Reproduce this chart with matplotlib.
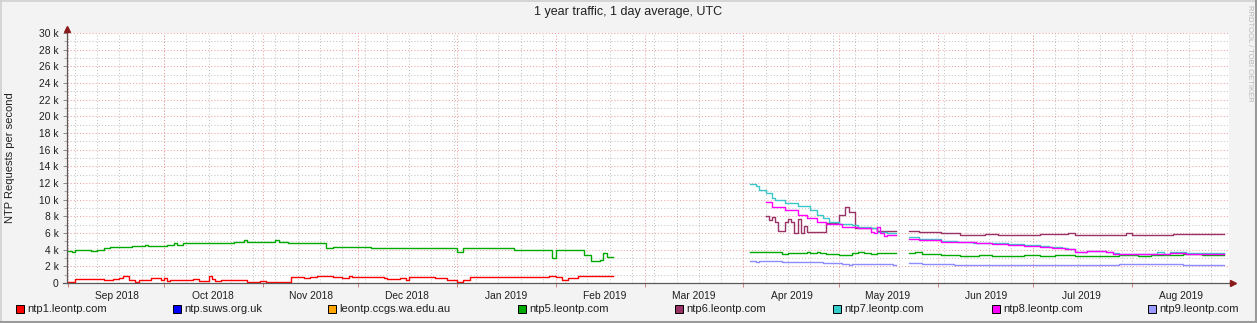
import numpy as np
import pandas as pd
import matplotlib
matplotlib.use("Agg")
import matplotlib.pyplot as plt
from matplotlib.patches import Rectangle
from matplotlib.lines import Line2D

plt.rcParams["font.family"] = ["Liberation Sans", "DejaVu Sans"]

nan = np.nan

# day offsets from 2018-09-01, daily averages in thousands of requests/s
# (a nan closes a run of data)
ntp1_day = [0, 2, 8, 11, 14, 16, 17, 19, 21, 22, 26, 29, 30, 31, 32, 39, 41, 44,
            45, 46, 48, 54, 56, 60, 62, 70, 74, 76, 78, 83, 86, 88, 89, 99, 100,
            104, 106, 107, 115, 119, 120, 122, 124, 126, 151, 153, 155, 157, 160, 171]
ntp1_k = [0.16, 0.44, 0.48, 0.32, 0.44, 0.56, 0.8, 0.36, 0.16, 0.32, 0.56, 0.32,
          0.64, 0.24, 0.32, 0.48, 0.24, 0.84, 0.48, 0.24, 0.32, 0.4, 0.16, 0.24,
          0.16, 0.72, 0.56, 0.76, 0.88, 0.76, 0.56, 0.8, 0.76, 0.56, 0.48, 0.6,
          0.32, 0.72, 0.56, 0.4, 0.32, 0.16, 0.4, 0.72, 0.88, 0.72, 0.4, 0.56, 0.8, nan]

ntp5_day = [0, 1, 2, 7, 9, 11, 13, 20, 24, 25, 31, 33, 34, 36, 52, 55, 56, 65, 66,
            69, 81, 83, 95, 110, 122, 124, 140, 152, 153, 162, 164, 167, 168, 169, 171,
            214, 224, 226, 232, 233, 235, 236, 238, 242, 246, 248, 250, 252, 254, 260,
            264, 266, 268, 274, 280, 286, 290, 300, 305, 310, 316, 320, 327, 330, 336,
            340, 345, 350, 356, 363]
ntp5_k = [3.85, 3.7, 4.0, 3.85, 4.0, 4.15, 4.3, 4.4, 4.6, 4.45, 4.55, 4.75, 4.55,
          4.8, 4.95, 5.15, 4.95, 5.2, 4.95, 4.75, 4.2, 4.3, 4.2, 4.25, 3.7, 4.25,
          3.95, 3.0, 3.95, 3.35, 2.6, 2.75, 3.6, 3.15, nan,
          3.68, 3.48, 3.56, 3.76, 3.56, 3.76, 3.56, 3.48, 3.36, 3.56, 3.76, 3.56,
          3.48, 3.56, nan,
          3.6, 3.68, 3.52, 3.4, 3.28, 3.36, 3.3, 3.4, 3.28, 3.36, 3.2, 3.3, 3.24,
          3.36, 3.28, 3.4, 3.32, 3.44, 3.36, nan]

ntp6_day = [219, 220, 221, 222, 223, 225, 226, 227, 228, 229, 230, 231, 232, 238,
            242, 244, 245, 247, 254, 260,
            264, 267, 272, 274, 280, 288, 292, 299, 305, 314, 316, 326, 332, 334, 341,
            347, 351, 363]
ntp6_k = [8.04, 7.56, 7.9, 7.36, 6.24, 7.36, 7.7, 7.36, 5.96, 7.7, 5.96, 6.8, 6.08,
          7.24, 8.16, 9.08, 8.56, 6.56, 6.24, nan,
          6.3, 6.16, 6.08, 5.96, 5.8, 5.88, 5.76, 5.72, 5.84, 5.96, 5.8, 5.76, 5.96,
          5.8, 5.72, 5.88, 5.84, nan]

ntp7_day = [214, 216, 217, 219, 221, 222, 225, 229, 233, 235, 237, 239, 242, 246,
            248, 252, 254, 257, 260,
            264, 267, 274, 279, 284, 290, 295, 300, 305, 308, 312, 314, 316, 320, 326,
            328, 330, 342, 344, 346, 351, 363]
ntp7_k = [11.84, 11.64, 11.16, 10.76, 10.16, 9.96, 9.56, 9.24, 8.76, 8.16, 7.76,
          7.36, 7.08, 6.96, 6.76, 6.56, 6.16, 5.96, nan,
          5.48, 5.24, 5.08, 4.96, 4.84, 4.76, 4.64, 4.52, 4.4, 4.28, 4.16, 4.04,
          3.76, 3.88, 3.76, 3.6, 3.5, 3.68, 3.5, 3.68, 3.56, nan]

ntp8_day = [219, 221, 225, 229, 232, 235, 238, 243, 248, 252, 253, 254, 255, 256,
            257, 260,
            264, 267, 274, 280, 285, 290, 295, 300, 305, 309, 313, 316, 320, 326, 328,
            330, 346, 351, 363]
ntp8_k = [9.68, 9.16, 8.76, 8.16, 7.76, 7.36, 7.08, 6.76, 6.56, 6.16, 6.0, 6.7, 6.0,
          5.68, 5.8, nan,
          5.32, 5.16, 4.96, 4.88, 4.76, 4.68, 4.56, 4.44, 4.32, 4.2, 4.04, 3.7, 3.8,
          3.7, 3.5, 3.44, 3.56, 3.48, nan]

ntp9_day = [214, 216, 217, 219, 224, 226, 232, 237, 238, 243, 245, 246, 259, 260,
            264, 268, 278, 290, 300, 315, 330, 350, 360, 363]
ntp9_k = [2.6, 2.56, 2.68, 2.6, 2.52, 2.48, 2.52, 2.36, 2.44, 2.32, 2.2, 2.28, 2.2, nan,
          2.44, 2.32, 2.16, 2.12, 2.16, 2.2, 2.24, 2.2, 2.14, nan]

legend_names = ["ntp1.leontp.com", "ntp.suws.org.uk", "leontp.ccgs.wa.edu.au",
                "ntp5.leontp.com", "ntp6.leontp.com", "ntp7.leontp.com",
                "ntp8.leontp.com", "ntp9.leontp.com"]
legend_colors = ["#FF0000", "#0000FF", "#FFA500", "#00AA00", "#993366",
                 "#33CCCC", "#FF00FF", "#9999FF"]
legend_px = [16, 173, 328, 518, 675, 833, 992, 1148]

series = [
    (ntp1_day, ntp1_k, "#FF0000"),
    (ntp5_day, ntp5_k, "#00AA00"),
    (ntp9_day, ntp9_k, "#8C8CFF"),
    (ntp6_day, ntp6_k, "#993366"),
    (ntp7_day, ntp7_k, "#3CC8C8"),
    (ntp8_day, ntp8_k, "#FF00FF"),
]

base = pd.Timestamp("2018-09-01")
months = pd.date_range("2018-09-01", "2019-08-01", freq="MS")
month_day = [(m - base).days for m in months]
month_lab = [m.strftime("%b %Y") for m in months]
mondays = pd.date_range("2018-08-27", "2019-09-02", freq="W-MON")
week_day = [(m - base).days for m in mondays]

W, H = 1257, 323
fig = plt.figure(figsize=(W / 100, H / 100), dpi=100, facecolor="#F3F3F3")
L, R, T, B = 67, 1229, 33, 283
ax = fig.add_axes([L / W, (H - B) / H, (R - L) / W, (B - T) / H])
ax.set_facecolor("white")
x0, x1 = -0.47, 364.5
ax.set_xlim(x0, x1)
ax.set_ylim(0, 30)
for s in ax.spines.values():
    s.set_visible(False)

dots = (0, (1, 2))
minor_c = "#C4C4C4"
major_c = "#F0A0A0"
for d in week_day:
    if x0 < d < x1:
        ax.axvline(d, color=minor_c, lw=0.75, ls=dots, zorder=1)
for k in range(1, 30, 2):
    ax.axhline(k, color=minor_c, lw=0.75, ls=dots, zorder=1)
for d in month_day:
    if x0 < d < x1:
        ax.axvline(d, color=major_c, lw=0.75, ls=dots, zorder=1)
for k in range(2, 31, 2):
    ax.axhline(k, color=major_c, lw=0.75, ls=dots, zorder=1)

for days, vals, col in series:
    ax.plot(days, vals, color=col, lw=1.0, drawstyle="steps-post", zorder=3)

# ticks and labels
ax.set_yticks(range(0, 31, 2))
ax.set_yticklabels(["0"] + ["%d k" % k for k in range(2, 31, 2)])
ax.set_yticks(range(1, 30, 2), minor=True)
ax.set_xticks([d + 15.3 for d in month_day])
ax.set_xticklabels(month_lab)
ax.set_xticks([d for d in month_day if x0 < d < x1], minor=True)
ax.tick_params(axis="y", which="major", length=3, width=0.7, color="#888888",
               labelsize=7.4, pad=3, labelcolor="#202020")
ax.tick_params(axis="y", which="minor", length=2, width=0.7, color="#AAAAAA")
ax.tick_params(axis="x", which="major", length=0, labelsize=7.4, pad=6,
               labelcolor="#202020")
ax.tick_params(axis="x", which="minor", length=3, width=0.7, color="#D08080")

# axis lines with arrow heads
axc = "#5A5A5A"
ax.plot([(63 - L) / (R - L), (1233 - L) / (R - L)], [0, 0], color=axc, lw=0.9,
        transform=ax.transAxes, clip_on=False, zorder=4)
ax.plot([0, 0], [0, (B - 29) / (B - T)], color=axc, lw=0.9,
        transform=ax.transAxes, clip_on=False, zorder=4)
ax.plot([(1233 - L) / (R - L)], [0], marker=">", ms=4, color="#8B1A1A",
        transform=ax.transAxes, clip_on=False, zorder=5)
ax.plot([0], [(B - 29) / (B - T)], marker="^", ms=4, color="#8B1A1A",
        transform=ax.transAxes, clip_on=False, zorder=5)

# titles
fig.text(0.5, 1 - 12 / H, "1 year traffic, 1 day average, UTC", ha="center",
         va="center", fontsize=9, color="#202020")
fig.text(10 / W, 1 - 158 / H, "NTP Requests per second", rotation=90,
         ha="center", va="center", fontsize=8, color="#202020")
fig.text(1249 / W, 1 - 53 / H, "RRDTOOL / TOBI OETIKER", rotation=270,
         ha="center", va="center", fontsize=5.5, color="#B8B8B8")

# legend
for name, col, px in zip(legend_names, legend_colors, legend_px):
    fig.add_artist(Rectangle((px / W, 1 - 313 / H), 8 / W, 8 / H,
                             transform=fig.transFigure, facecolor=col,
                             edgecolor="black", lw=0.7))
    fig.text((px + 11) / W, 1 - 309 / H, name, ha="left", va="center",
             fontsize=8, color="#202020")

# frame
fig.add_artist(Line2D([0, 1], [1 - 0.5 / H, 1 - 0.5 / H], color="#D0D0D0", lw=1.2,
                      transform=fig.transFigure))
fig.add_artist(Line2D([0.5 / W, 0.5 / W], [0, 1], color="#D0D0D0", lw=1.2,
                      transform=fig.transFigure))
fig.add_artist(Line2D([0, 1], [0.8 / H, 0.8 / H], color="#9A9A9A", lw=1.5,
                      transform=fig.transFigure))
fig.add_artist(Line2D([1 - 0.8 / W, 1 - 0.8 / W], [0, 1], color="#9A9A9A", lw=1.5,
                      transform=fig.transFigure))

fig.savefig("out.png", dpi=100, facecolor=fig.get_facecolor())
